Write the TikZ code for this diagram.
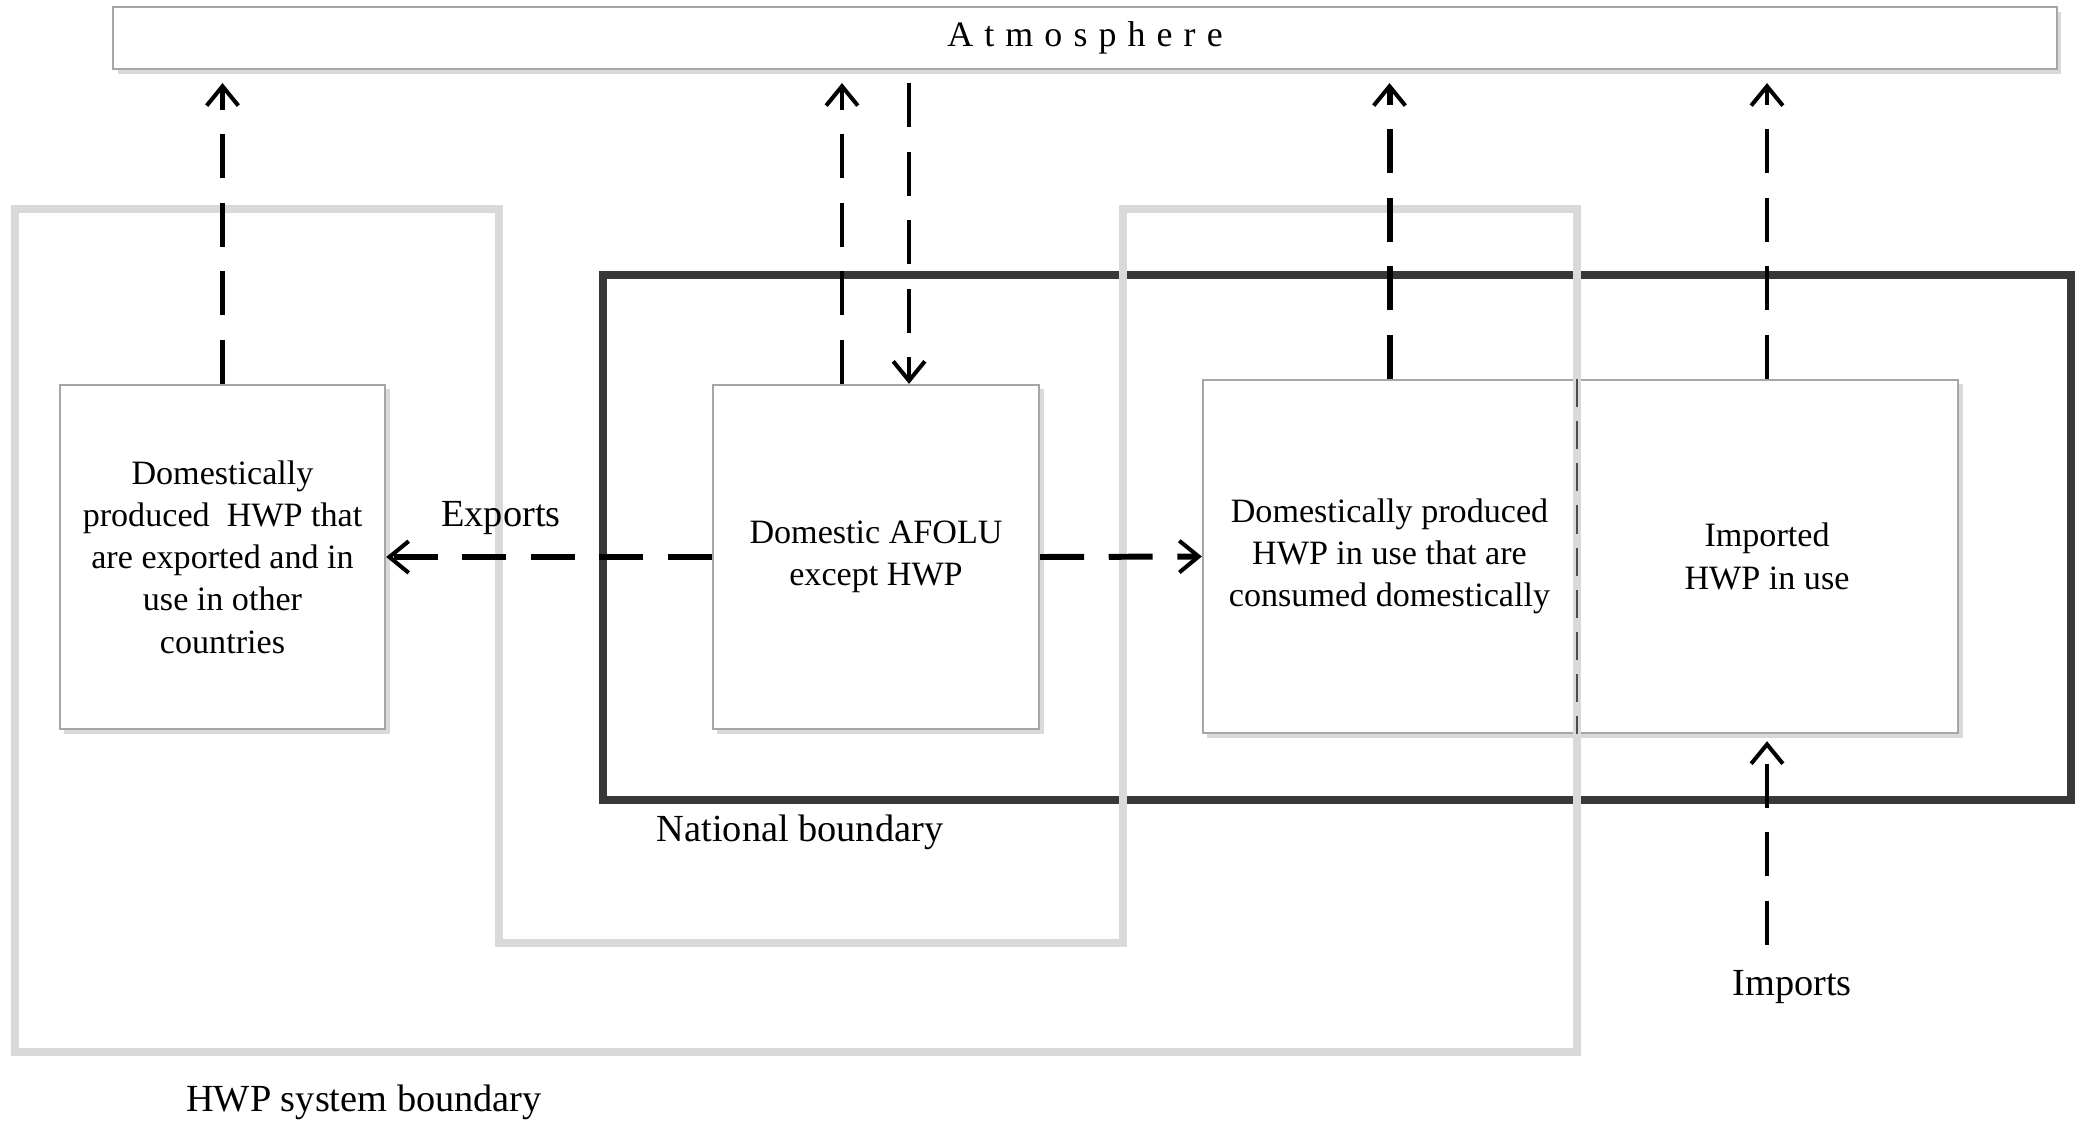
\documentclass[tikz,border=0pt]{standalone}
\usepackage{fontspec}
\setmainfont{Liberation Serif}
\newfontfamily\spacedfont[LetterSpace=31]{Liberation Serif}
\usetikzlibrary{arrows.meta,shadows}
\tikzset{
  box/.style={draw=gray!70, line width=0.6pt, fill=white, align=center, inner sep=0pt,
    font=\fontsize{9.7}{12}\selectfont,
    drop shadow={shadow xshift=1.3pt, shadow yshift=-1.3pt, opacity=0.3, fill=gray}},
  lbl/.style={font=\fontsize{10.9}{13}\selectfont, inner sep=1pt},
  flow/.style={line width=1.15pt, dash pattern=on 12.5pt off 7pt,
    -{Straight Barb[length=5.5pt,width=9pt,line width=1.15pt]}},
  flowthick/.style={flow, line width=1.7pt},
  hwpb/.style={draw=gray!30, line width=2.3pt, line join=miter},
  natb/.style={draw=black!78, line width=2.1pt, line join=miter},
  divider/.style={draw=black!70, line width=0.6pt, dash pattern=on 8pt off 4pt}
}
\begin{document}
\begin{tikzpicture}[x=0.01cm,y=-0.01cm]
\useasboundingbox (0,0) rectangle (2077,1124);

% atmosphere
\node[box, minimum width=19.42cm, minimum height=0.62cm,
  font=\fontsize{10.2}{12}\spacedfont] (atm) at (1085,38) {Atmosphere};

% national boundary
\draw[natb] (603,275) rectangle (2071,800);

% boxes
\node[box, minimum width=3.25cm, minimum height=3.44cm] (b1) at (222.5,557)
  {Domestically\\produced\ \ HWP that\\are exported and in\\use in other\\countries};
\node[box, minimum width=3.26cm, minimum height=3.44cm] (b2) at (876,557)
  {Domestic AFOLU\\except HWP};
\node[box, minimum width=3.73cm, minimum height=3.53cm] (b3) at (1389.5,556.5)
  {Domestically produced\\HWP in use that are\\consumed domestically};
\node[box, minimum width=3.82cm, minimum height=3.53cm] (b4) at (1767,556.5)
  {Imported\\HWP in use};

% HWP system boundary
\draw[hwpb] (15,209) -- (499,209) -- (499,943) -- (1123,943) -- (1123,209)
  -- (1577,209) -- (1577,1052) -- (15,1052) -- cycle;

% divider between b3 and b4
\draw[divider] (b3.north east) -- (b3.south east);

% labels
\node[lbl] (exports) at (501,518) {Exports};
\node[lbl] (natlbl) at (800,832) {National boundary};
\node[lbl] (implbl) at (1792,987) {Imports};
\node[lbl] (hwplbl) at (364,1102) {HWP system boundary};
\coordinate (impstart) at (1767,945);

% flows to/from atmosphere
\draw[flow, shorten >=0.13cm] (b1.north) -- (b1.north |- atm.south);
\draw[flow, shorten >=0.13cm] ([xshift=-0.34cm]b2.north) -- ([xshift=-0.34cm]b2.north |- atm.south);
\draw[flow, shorten <=0.13cm] ([xshift=0.33cm]b2.north |- atm.south) -- ([xshift=0.33cm]b2.north);
\draw[flowthick, shorten >=0.13cm] (b3.north) -- (b3.north |- atm.south);
\draw[flow, shorten >=0.13cm] (b4.north) -- (b4.north |- atm.south);

% horizontal flows
\draw[flowthick] (b2.west) -- (b1.east);
\draw[flowthick] (b2.east) -- (b3.west);

% imports
\draw[flow, shorten >=0.07cm] (impstart) -- (b4.south);
\end{tikzpicture}
\end{document}
